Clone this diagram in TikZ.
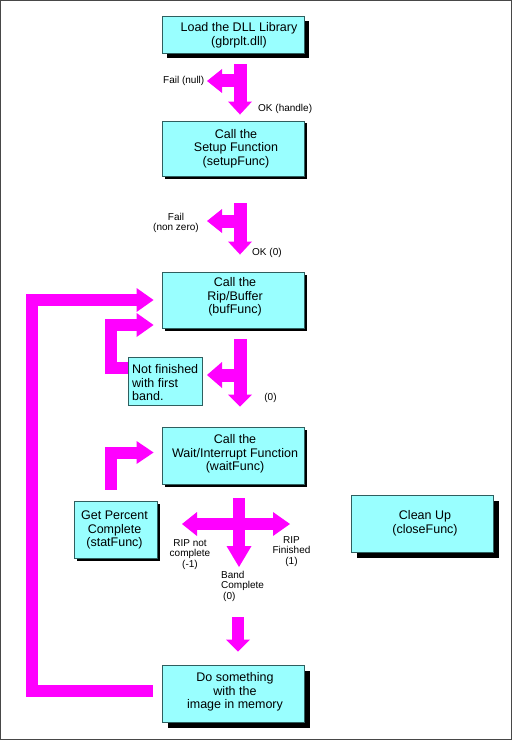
\documentclass[tikz,border=0pt]{standalone}
\usepackage{fontspec}
\setmainfont{Liberation Sans}
\usetikzlibrary{arrows.meta,shadows}
\definecolor{boxfill}{HTML}{99FFFF}
\definecolor{boxline}{HTML}{2F5F5F}
\definecolor{mag}{HTML}{FF00FF}
\definecolor{framecol}{HTML}{474747}
\begin{document}
\begin{tikzpicture}[x=1pt,y=-1pt,
  box/.style={draw=boxline,fill=boxfill,line width=0.9pt,inner sep=0pt},
  shad/.style={drop shadow={shadow xshift=#1,shadow yshift=-#1,fill=black,opacity=1}},
  boxtext/.style={font=\fontsize{12.5}{13.5}\selectfont,align=center,inner sep=0pt},
  smalltext/.style={font=\fontsize{10}{10.5}\selectfont,inner sep=0pt},
  fatarrow/.style={draw=mag,line width=#1,line join=miter},
  fatarrow/.default=13pt]
\useasboundingbox (0,0) rectangle (513,741);
\draw[framecol,line width=1.3pt] (0.65,0.65) rectangle (511.65,739.65);

% boxes
\node[box,shad=5pt,minimum width=142pt,minimum height=37pt] (load) at (233,34.5) {};
\node[boxtext] (loadt) at (239,35.5) {Load the DLL Library\\(gbrplt.dll)};
\node[box,shad=2.5pt,minimum width=142pt,minimum height=55pt] (setup) at (233,148.5) {};
\node[boxtext] (setupt) at (236,148.5) {Call the\\Setup Function\\(setupFunc)};
\node[box,shad=3pt,minimum width=142pt,minimum height=56pt] (buf) at (233,300) {};
\node[boxtext] (buft) at (235,297) {Call the\\Rip/Buffer\\(bufFunc)};
\node[box,minimum width=74pt,minimum height=48pt] (notfin) at (165,381) {};
\node[boxtext,align=left,anchor=west] (notfint) at (132,383) {Not finished\\with first\\band.};
\node[box,shad=3pt,minimum width=142pt,minimum height=57pt] (wait) at (233,455.5) {};
\node[boxtext] (waitt) at (235,454) {Call the\\Wait/Interrupt Function\\(waitFunc)};
\node[box,shad=3pt,minimum width=83pt,minimum height=57pt] (getp) at (115.5,529.5) {};
\node[boxtext] (getpt) at (114.5,530) {Get Percent\\Complete\\(statFunc)};
\node[box,shad=6pt,minimum width=142pt,minimum height=57pt] (clean) at (422,523.5) {};
\node[boxtext] (cleant) at (425,523.5) {Clean Up\\(closeFunc)};
\node[box,shad=6pt,minimum width=142pt,minimum height=57pt] (dosome) at (233,693.5) {};
\node[boxtext] (dosomet) at (235,692) {Do something\\with the\\image in memory};

% junctions and free ends
\coordinate (j1) at (240,81);  \coordinate (f1) at (207,81);
\coordinate (j2) at (240,221); \coordinate (f2) at (207,221);
\coordinate (j3) at (240,375); \coordinate (f3) at (207,375);
\coordinate (xl) at (182,524); \coordinate (xr) at (290,524);
\coordinate (xd) at (239,567);
\coordinate (s8) at (238,617);

% arrow 1
\draw[fatarrow=13pt,-{Triangle[length=13pt,width=24pt,line width=0pt]}]
  ([xshift=7pt,yshift=-10.5pt]load.south) -- ([xshift=7pt,yshift=6pt]setup.north);
\draw[fatarrow=13pt,-{Triangle[length=15pt,width=24pt,line width=0pt]}] (j1) -- (f1);
% arrow 2
\draw[fatarrow=13pt,-{Triangle[length=13pt,width=24pt,line width=0pt]}]
  ([xshift=7pt,yshift=-27pt]setup.south) -- ([xshift=7pt,yshift=17pt]buf.north);
\draw[fatarrow=13pt,-{Triangle[length=15pt,width=24pt,line width=0pt]}] (j2) -- (f2);
% arrow 3
\draw[fatarrow=13pt,-{Triangle[length=12pt,width=24pt,line width=0pt]}]
  ([xshift=7pt,yshift=-11pt]buf.south) -- ([xshift=7pt,yshift=20pt]wait.north);
\draw[fatarrow=13pt,-{Triangle[length=15pt,width=26pt,line width=0pt]}] (j3) -- (f3);
% loop from "Not finished" back to bufFunc
\draw[fatarrow=12pt,-{Triangle[length=17pt,width=24pt,line width=0pt]}]
  ([yshift=13.5pt]notfin.west) -- ++(-17,0) |- ([xshift=-8pt,yshift=-25pt]buf.west);
% big loop from "Do something" back to bufFunc
\draw[fatarrow=12pt,-{Triangle[length=17pt,width=24pt,line width=0pt]}]
  ([xshift=-9pt,yshift=2.5pt]dosome.west) -- ++(-120.5,0) |- ([xshift=-8pt]buf.west);
% loop from "Get Percent" back to waitFunc
\draw[fatarrow=12pt,-{Triangle[length=17pt,width=23pt,line width=0pt]}]
  ([xshift=-4.5pt,yshift=11pt]getp.north) |- ([xshift=-8pt,yshift=3pt]wait.west);
% cross arrow
\draw[fatarrow=12pt,-{Triangle[length=21pt,width=25pt,line width=0pt]}]
  ([xshift=6pt,yshift=-14pt]wait.south) -- (xd);
\draw[fatarrow=12pt,{Triangle[length=15pt,width=24pt,line width=0pt]}-{Triangle[length=17pt,width=24pt,line width=0pt]}]
  (xl) -- (xr);
% arrow to "Do something"
\draw[fatarrow=12pt,-{Triangle[length=12pt,width=24pt,line width=0pt]}]
  (s8) -- ([xshift=5pt,yshift=13pt]dosome.north);

% labels
\node[smalltext,anchor=east] (l1) at (204.5,81) {Fail (null)};
\node[smalltext,anchor=west] (l2) at (258,109) {OK (handle)};
\node[smalltext,align=center] (l3) at (176,223) {Fail\\(non zero)};
\node[smalltext,anchor=west] (l4) at (252,253) {OK (0)};
\node[smalltext] (l5) at (270.5,398) {(0)};
\node[smalltext,align=center] (l6) at (190,554.5) {RIP not\\complete\\(-1)};
\node[smalltext,align=center] (l7) at (291.5,551.5) {RIP\\Finished\\(1)};
\node[smalltext,align=left,anchor=west] (l8) at (221,586) {Band\\Complete\\\hspace*{2pt}(0)};
\end{tikzpicture}
\end{document}
